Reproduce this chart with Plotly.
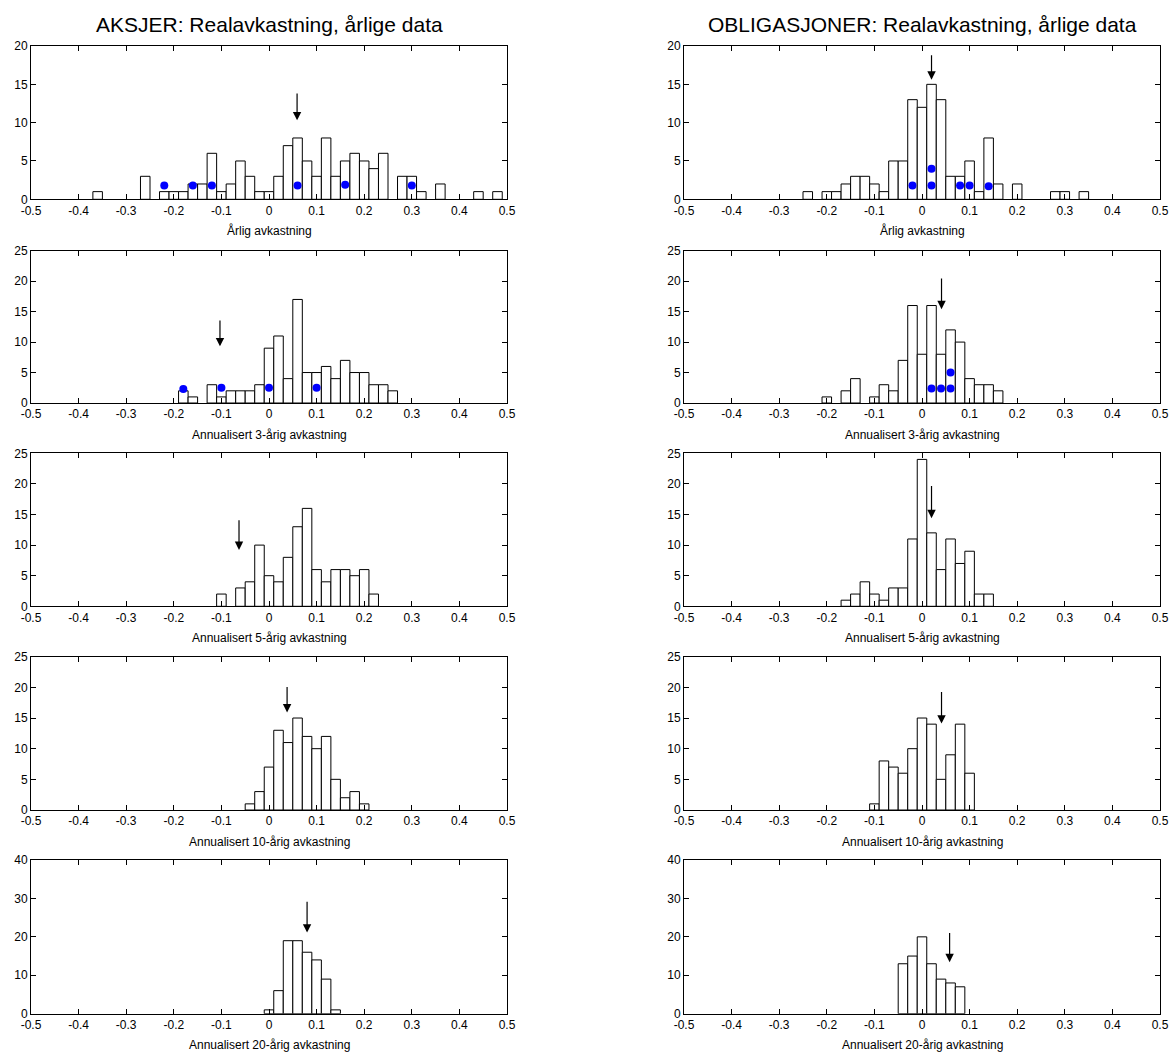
import plotly.graph_objects as go

# ---------------- DATA ----------------
titles = ["AKSJER: Realavkastning, årlige data", "OBLIGASJONER: Realavkastning, årlige data"]
xlabels = ["Årlig avkastning", "Annualisert 3-årig avkastning", "Annualisert 5-årig avkastning",
           "Annualisert 10-årig avkastning", "Annualisert 20-årig avkastning"]
xtick_vals = [-0.5, -0.4, -0.3, -0.2, -0.1, 0, 0.1, 0.2, 0.3, 0.4, 0.5]
xtick_text = ["-0.5", "-0.4", "-0.3", "-0.2", "-0.1", "0", "0.1", "0.2", "0.3", "0.4", "0.5"]
ymax_rows = [20, 25, 25, 25, 40]
ydtick_rows = [5, 5, 5, 5, 10]

# Stocks (AKSJER) histograms: bin centres and counts
aksjer_1_x = [-0.36, -0.26, -0.22, -0.20, -0.18, -0.16, -0.14, -0.12, -0.10, -0.08, -0.06, -0.04, -0.02, 0.00,
              0.02, 0.04, 0.06, 0.08, 0.10, 0.12, 0.14, 0.16, 0.18, 0.20, 0.22, 0.24, 0.28, 0.30, 0.32, 0.36,
              0.44, 0.48]
aksjer_1_n = [1, 3, 1, 1, 1, 2, 2, 6, 1, 2, 5, 3, 1, 1, 3, 7, 8, 5, 3, 8, 3, 5, 6, 5, 4, 6, 3, 3, 1, 2, 1, 1]
aksjer_3_x = [-0.18, -0.16, -0.12, -0.10, -0.08, -0.06, -0.04, -0.02, 0.00, 0.02, 0.04, 0.06, 0.08, 0.10,
              0.12, 0.14, 0.16, 0.18, 0.20, 0.22, 0.24, 0.26]
aksjer_3_n = [2, 1, 3, 1, 2, 2, 2, 3, 9, 11, 4, 17, 5, 5, 6, 4, 7, 5, 5, 3, 3, 2]
aksjer_5_x = [-0.10, -0.06, -0.04, -0.02, 0.00, 0.02, 0.04, 0.06, 0.08, 0.10, 0.12, 0.14, 0.16, 0.18, 0.20, 0.22]
aksjer_5_n = [2, 3, 4, 10, 5, 4, 8, 13, 16, 6, 4, 6, 6, 5, 6, 2]
aksjer_10_x = [-0.04, -0.02, 0.00, 0.02, 0.04, 0.06, 0.08, 0.10, 0.12, 0.14, 0.16, 0.18, 0.20]
aksjer_10_n = [1, 3, 7, 13, 11, 15, 12, 10, 12, 5, 2, 3, 1]
aksjer_20_x = [0.00, 0.02, 0.04, 0.06, 0.08, 0.10, 0.12, 0.14]
aksjer_20_n = [1, 6, 19, 19, 16, 14, 9, 1]

# Bonds (OBLIGASJONER) histograms
oblig_1_x = [-0.24, -0.20, -0.18, -0.16, -0.14, -0.12, -0.10, -0.08, -0.06, -0.04, -0.02, 0.00, 0.02, 0.04,
             0.06, 0.08, 0.10, 0.12, 0.14, 0.16, 0.20, 0.28, 0.30, 0.34]
oblig_1_n = [1, 1, 1, 2, 3, 3, 2, 1, 5, 5, 13, 12, 15, 13, 3, 3, 5, 1, 8, 2, 2, 1, 1, 1]
oblig_3_x = [-0.20, -0.16, -0.14, -0.10, -0.08, -0.06, -0.04, -0.02, 0.00, 0.02, 0.04, 0.06, 0.08, 0.10,
             0.12, 0.14, 0.16]
oblig_3_n = [1, 2, 4, 1, 3, 2, 7, 16, 8, 16, 8, 12, 10, 4, 3, 3, 2]
oblig_5_x = [-0.16, -0.14, -0.12, -0.10, -0.08, -0.06, -0.04, -0.02, 0.00, 0.02, 0.04, 0.06, 0.08, 0.10,
             0.12, 0.14]
oblig_5_n = [1, 2, 4, 2, 1, 3, 3, 11, 24, 12, 6, 11, 7, 9, 2, 2]
oblig_10_x = [-0.10, -0.08, -0.06, -0.04, -0.02, 0.00, 0.02, 0.04, 0.06, 0.08, 0.10]
oblig_10_n = [1, 8, 7, 6, 10, 15, 14, 5, 9, 14, 6]
oblig_20_x = [-0.04, -0.02, 0.00, 0.02, 0.04, 0.06, 0.08]
oblig_20_n = [13, 15, 20, 13, 9, 8, 7]

# Highlighted years (blue dots)
aksjer_1_dot_x = [-0.22, -0.16, -0.12, 0.06, 0.16, 0.30]
aksjer_1_dot_y = [1.8, 1.8, 1.8, 1.8, 1.9, 1.8]
aksjer_3_dot_x = [-0.18, -0.10, 0.00, 0.10]
aksjer_3_dot_y = [2.3, 2.5, 2.5, 2.5]
oblig_1_dot_x = [-0.02, 0.02, 0.02, 0.08, 0.10, 0.14]
oblig_1_dot_y = [1.8, 1.8, 4.0, 1.8, 1.8, 1.7]
oblig_3_dot_x = [0.02, 0.04, 0.06, 0.06]
oblig_3_dot_y = [2.4, 2.4, 2.4, 5.0]

# Mean markers (arrows): x position, arrow tail y, arrow tip y
aksjer_mean_x = [0.059, -0.103, -0.063, 0.038, 0.080]
aksjer_arrow_top = [14.0, 13.8, 14.3, 20.3, 29.5]
aksjer_arrow_tip = [10.3, 9.3, 9.2, 15.9, 21.1]
oblig_mean_x = [0.020, 0.041, 0.020, 0.041, 0.058]
oblig_arrow_top = [19.0, 20.7, 19.9, 19.5, 21.4]
oblig_arrow_tip = [15.6, 15.4, 14.4, 14.1, 13.4]

# ---------------- LAYOUT ----------------
W, H = 1169, 1053
col_px = [(31, 507), (684, 1160)]
row_px = [(46, 199.3), (250.7, 403), (453.3, 606.3), (656.7, 810), (860, 1013.7)]
FONT = "Arial, 'Liberation Sans', sans-serif"

hists = [
    [(aksjer_1_x, aksjer_1_n), (oblig_1_x, oblig_1_n)],
    [(aksjer_3_x, aksjer_3_n), (oblig_3_x, oblig_3_n)],
    [(aksjer_5_x, aksjer_5_n), (oblig_5_x, oblig_5_n)],
    [(aksjer_10_x, aksjer_10_n), (oblig_10_x, oblig_10_n)],
    [(aksjer_20_x, aksjer_20_n), (oblig_20_x, oblig_20_n)],
]
dots = {(0, 0): (aksjer_1_dot_x, aksjer_1_dot_y), (1, 0): (aksjer_3_dot_x, aksjer_3_dot_y),
        (0, 1): (oblig_1_dot_x, oblig_1_dot_y), (1, 1): (oblig_3_dot_x, oblig_3_dot_y)}
arrows = [(aksjer_mean_x, aksjer_arrow_top, aksjer_arrow_tip), (oblig_mean_x, oblig_arrow_top, oblig_arrow_tip)]

fig = go.Figure()
layout = dict(width=W, height=H, margin=dict(l=0, r=0, t=0, b=0), paper_bgcolor="white",
              plot_bgcolor="white", showlegend=False, font=dict(family=FONT, size=12, color="black"),
              annotations=[])

for r in range(5):
    for c in range(2):
        i = r * 2 + c + 1
        xa = "x" if i == 1 else f"x{i}"
        ya = "y" if i == 1 else f"y{i}"
        xs, ns = hists[r][c]
        fig.add_trace(go.Bar(x=xs, y=ns, width=0.02, xaxis=xa, yaxis=ya,
                             marker=dict(color="white", line=dict(color="black", width=1))))
        if (r, c) in dots:
            dx, dy = dots[(r, c)]
            fig.add_trace(go.Scatter(x=dx, y=dy, mode="markers", xaxis=xa, yaxis=ya,
                                     marker=dict(color="#0000FF", size=8, line=dict(width=0))))
        mx, mt, mp = arrows[c]
        layout["annotations"].append(dict(x=mx[r], y=mp[r], ax=mx[r], ay=mt[r], xref=xa, yref=ya,
                                          axref=xa, ayref=ya, text="", showarrow=True, arrowhead=2,
                                          arrowsize=1.4, arrowwidth=1.2, arrowcolor="black"))
        x0, x1 = col_px[c]
        y0, y1 = row_px[r]
        axkey = "xaxis" if i == 1 else f"xaxis{i}"
        aykey = "yaxis" if i == 1 else f"yaxis{i}"
        layout[axkey] = dict(domain=[x0 / W, x1 / W], anchor=ya, range=[-0.5, 0.5],
                             tickvals=xtick_vals, ticktext=xtick_text, ticks="inside", ticklen=5,
                             tickcolor="black", showline=True, linecolor="black", linewidth=1,
                             mirror="ticks", showgrid=False, zeroline=False, automargin=False,
                             tickfont=dict(size=12, family=FONT))
        layout[aykey] = dict(domain=[1 - y1 / H, 1 - y0 / H], anchor=xa, range=[0, ymax_rows[r]],
                             tick0=0, dtick=ydtick_rows[r], ticks="inside", ticklen=5,
                             tickcolor="black", showline=True, linecolor="black", linewidth=1,
                             mirror="ticks", showgrid=False, zeroline=False, automargin=False,
                             tickfont=dict(size=12, family=FONT))
        layout["annotations"].append(dict(text=xlabels[r], xref="paper", yref="paper",
                                          x=(x0 + x1) / 2 / W, y=1 - (y1 + 31.5) / H,
                                          xanchor="center", yanchor="middle", showarrow=False,
                                          font=dict(size=12, family=FONT)))

for c in range(2):
    x0, x1 = col_px[c]
    layout["annotations"].append(dict(text=titles[c], xref="paper", yref="paper",
                                      x=(x0 + x1) / 2 / W, y=1 - 25 / H, xanchor="center",
                                      yanchor="middle", showarrow=False,
                                      font=dict(size=21, family=FONT)))

fig.update_layout(**layout)
fig.write_html("out.html", config={"displayModeBar": False},
               post_script="document.body.style.margin='0';")
